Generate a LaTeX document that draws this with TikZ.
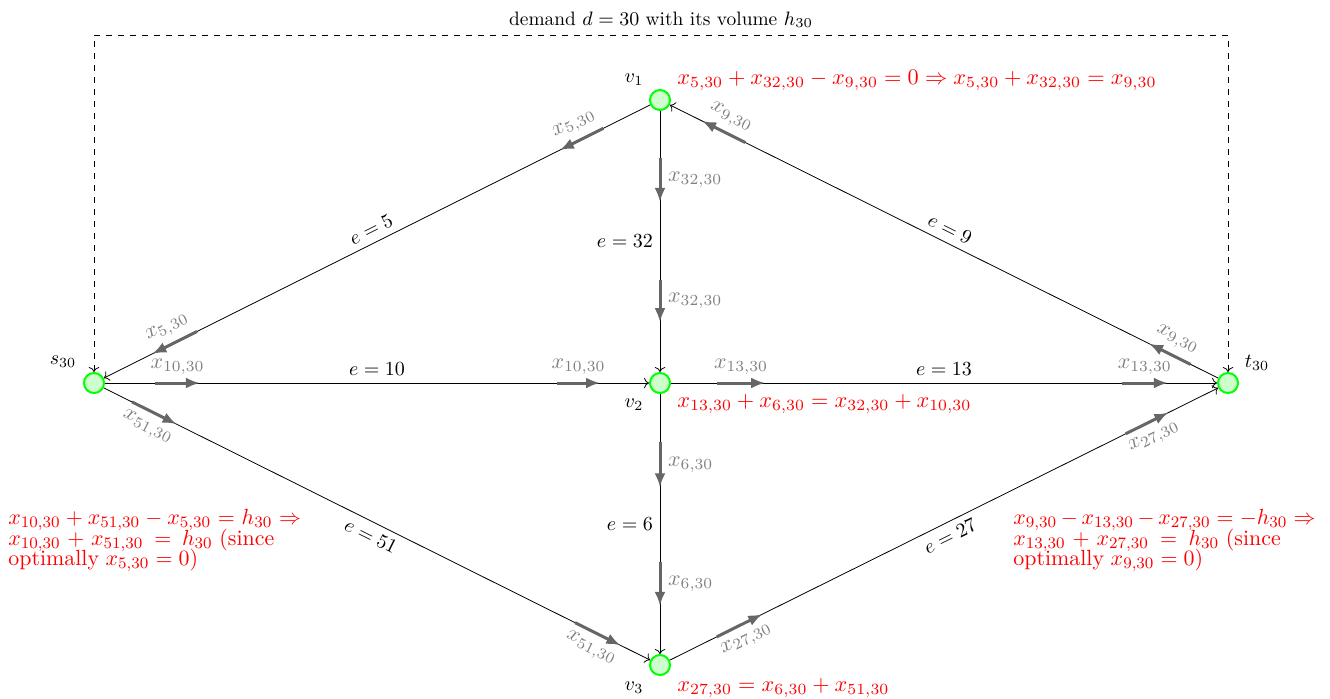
\documentclass[tikz,border=0pt]{standalone}
\usepackage{fix-cm}
\usetikzlibrary{arrows.meta}
\newcommand\blkfmt{\fontsize{10.95}{10.2}\selectfont\lineskiplimit=-6pt\hyphenpenalty=10000 }
\begin{document}
\begin{tikzpicture}[x=0.5pt,y=-0.5pt,
  vert/.style={circle,draw=green,fill=green!20,line width=1pt,minimum size=10pt,inner sep=0pt},
  edge/.style={->,black},
  flow/.style={black!60,line width=1.5pt,-{Latex[length=7pt,width=5.5pt]}},
  flowlab/.style={gray,font=\fontsize{11}{13}\selectfont},
  lab/.style={font=\normalsize},
  eq/.style={red,inner sep=0pt,font=\fontsize{11.15}{13}\selectfont},
  blk/.style={red,inner sep=0pt,text width=148.5pt,anchor=north west}]
\useasboundingbox (0,0) rectangle (1330,698);
% vertices
\node[vert] (s)  at (94,383) {};
\node[vert] (v1) at (660,100) {};
\node[vert] (v2) at (660,383) {};
\node[vert] (v3) at (660,665) {};
\node[vert] (t)  at (1228,383) {};
% vertex labels
\node[lab] (ls)  at (63,362) {$s_{30}$};
\node[lab] (lt)  at (1257,363) {$t_{30}$};
\node[lab] (l1)  at (634,80) {$v_1$};
\node[lab] (l2)  at (634,405) {$v_2$};
\node[lab] (l3)  at (634,688) {$v_3$};
% demand
\coordinate (tl) at (94,35);
\coordinate (tr) at (1228,35);
\draw[dashed,<->] (s) -- (tl) -- (tr) node[midway,above,font=\fontsize{9.7}{12}\selectfont] (dem) {demand $d=30$ with its volume $h_{30}$} -- (t);
% edges
\draw[edge] (v1) -- (s) node[midway,above,sloped] (e5) {$e=5$};
\draw[edge] (s) -- (v2) node[midway,above] (e10) {$e=10$};
\draw[edge] (s) -- (v3) node[midway,below,sloped] (e51) {$e=51$};
\draw[edge] (v1) -- (v2) node[midway,left] (e32) {$e=32$};
\draw[edge] (v2) -- (v3) node[midway,left] (e6) {$e=6$};
\draw[edge] (v2) -- (t) node[midway,above] (e13) {$e=13$};
\draw[edge] (t) -- (v1) node[midway,above,sloped] (e9) {$e=9$};
\draw[edge] (v3) -- (t) node[midway,below,sloped] (e27) {$e=27$};
% flows
\path (v1.center) -- (s.center) coordinate[pos=.10] (a1) coordinate[pos=.177] (b1) coordinate[pos=.818] (a2) coordinate[pos=.897] (b2);
\draw[flow] (a1) -- (b1) node[flowlab,midway,above,sloped] {$x_{5,30}$};
\draw[flow] (a2) -- (b2) node[flowlab,midway,above,sloped] {$x_{5,30}$};
\path (s.center) -- (v2.center) coordinate[pos=.108] (a3) coordinate[pos=.187] (b3) coordinate[pos=.818] (a4) coordinate[pos=.894] (b4);
\draw[flow] (a3) -- (b3) node[flowlab,midway,above] {$x_{10,30}$};
\draw[flow] (a4) -- (b4) node[flowlab,midway,above] {$x_{10,30}$};
\path (s.center) -- (v3.center) coordinate[pos=.067] (a5) coordinate[pos=.146] (b5) coordinate[pos=.85] (a6) coordinate[pos=.93] (b6);
\draw[flow] (a5) -- (b5) node[flowlab,midway,below,sloped] {$x_{51,30}$};
\draw[flow] (a6) -- (b6) node[flowlab,midway,below,sloped] {$x_{51,30}$};
\path (v1.center) -- (v2.center) coordinate[pos=.205] (a7) coordinate[pos=.36] (b7) coordinate[pos=.635] (a8) coordinate[pos=.785] (b8);
\draw[flow] (a7) -- (b7) node[flowlab,midway,right] {$x_{32,30}$};
\draw[flow] (a8) -- (b8) node[flowlab,midway,right] {$x_{32,30}$};
\path (v2.center) -- (v3.center) coordinate[pos=.21] (a9) coordinate[pos=.37] (b9) coordinate[pos=.635] (a10) coordinate[pos=.79] (b10);
\draw[flow] (a9) -- (b9) node[flowlab,midway,right] {$x_{6,30}$};
\draw[flow] (a10) -- (b10) node[flowlab,midway,right] {$x_{6,30}$};
\path (v2.center) -- (t.center) coordinate[pos=.10] (a11) coordinate[pos=.185] (b11) coordinate[pos=.813] (a12) coordinate[pos=.894] (b12);
\draw[flow] (a11) -- (b11) node[flowlab,midway,above] {$x_{13,30}$};
\draw[flow] (a12) -- (b12) node[flowlab,midway,above] {$x_{13,30}$};
\path (t.center) -- (v1.center) coordinate[pos=.066] (a13) coordinate[pos=.139] (b13) coordinate[pos=.85] (a14) coordinate[pos=.926] (b14);
\draw[flow] (a13) -- (b13) node[flowlab,midway,above,sloped] {$x_{9,30}$};
\draw[flow] (a14) -- (b14) node[flowlab,midway,above,sloped] {$x_{9,30}$};
\path (v3.center) -- (t.center) coordinate[pos=.10] (a15) coordinate[pos=.18] (b15) coordinate[pos=.82] (a16) coordinate[pos=.895] (b16);
\draw[flow] (a15) -- (b15) node[flowlab,midway,below,sloped] {$x_{27,30}$};
\draw[flow] (a16) -- (b16) node[flowlab,midway,below,sloped] {$x_{27,30}$};
% equations
\node[eq,anchor=west] (q1) at (677,80) {$x_{5,30}+x_{32,30}-x_{9,30}=0\Rightarrow x_{5,30}+x_{32,30}=x_{9,30}$};
\node[eq,anchor=west] (q2) at (677,404) {$x_{13,30}+x_{6,30}=x_{32,30}+x_{10,30}$};
\node[eq,anchor=west] (q3) at (677,688) {$x_{27,30}=x_{6,30}+x_{51,30}$};
\node[blk] (qs) at (8,509) {\blkfmt $x_{10,30}+x_{51,30}-x_{5,30}=h_{30}\Rightarrow x_{10,30}+x_{51,30}=h_{30}$ (since optimally $x_{5,30}=0$)\par};
\node[blk,text width=151pt] (qt) at (1013,509) {\blkfmt $x_{9,30}-x_{13,30}-x_{27,30}=-h_{30}\Rightarrow x_{13,30}+x_{27,30}=h_{30}$ (since optimally $x_{9,30}=0$)\par};
\end{tikzpicture}
\end{document}
